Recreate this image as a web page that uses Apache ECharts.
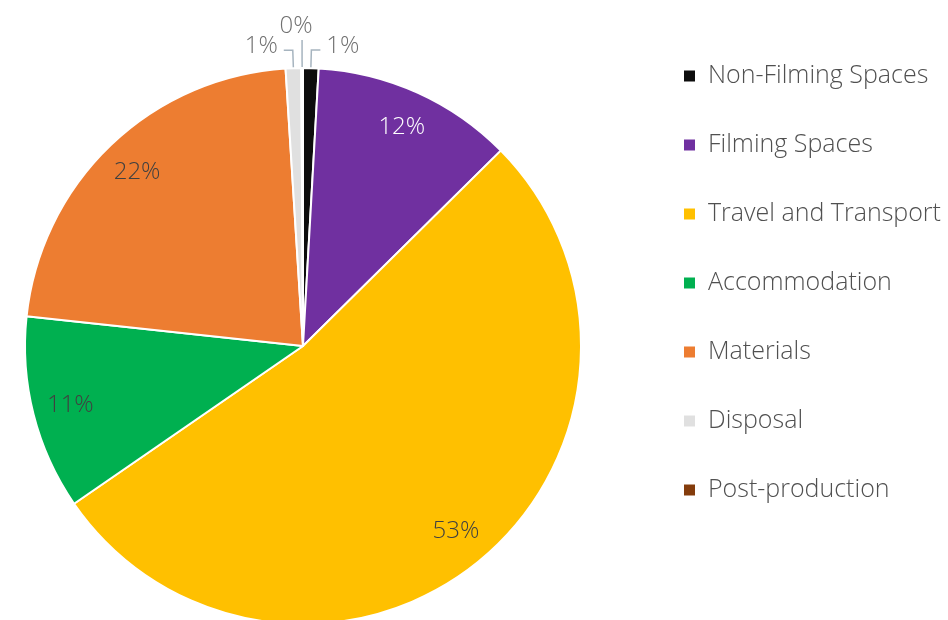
<!DOCTYPE html>
<html>
<head>
<meta charset="utf-8">
<script src="https://cdn.jsdelivr.net/npm/echarts@6/dist/echarts.min.js"></script>
<style>
  html, body { margin: 0; padding: 0; background: #fff; }
  #chart { width: 948px; height: 620px; }
</style>
</head>
<body>
<div id="chart"></div>
<script>
// categories and shares (percent of total footprint)
var categories = ['Non-Filming Spaces', 'Filming Spaces', 'Travel and Transport', 'Accommodation', 'Materials', 'Disposal', 'Post-production'];
var shares = [0.9, 11.7, 52.8, 11.3, 22.3, 0.9, 0.1];
var colors = ['#0d0d0d', '#7030a0', '#ffc000', '#00b050', '#ed7d31', '#e0e0e0', '#843c0c'];
var insideLabelColors = ['#404040', '#ffffff', '#404040', '#404040', '#404040', '#404040', '#404040'];

var chart = echarts.init(document.getElementById('chart'));

var pieCenter = [303, 346];
var pieRadius = 278;
var fontName = 'Open Sans';

// main pie: slices + outside labels for the tiny slices
var mainData = categories.map(function (name, i) {
  var small = shares[i] < 5;
  var item = {
    name: name,
    value: shares[i],
    itemStyle: { color: colors[i] },
    label: { show: small },
    labelLine: { show: small }
  };
  // the 0% one sits straight above the pie
  if (i === categories.length - 1) {
    item.labelLine = { show: true, length: 28, length2: 0 };
  }
  return item;
});

// transparent ring, only used to place the big-slice labels near the rim
var labelData = categories.map(function (name, i) {
  var big = shares[i] >= 5;
  return {
    name: name,
    value: shares[i],
    label: { show: big, color: insideLabelColors[i] }
  };
});

var option = {
  backgroundColor: '#ffffff',
  animation: false,
  legend: {
    orient: 'vertical',
    left: 677,
    top: 57,
    itemWidth: 13,
    itemHeight: 13,
    itemGap: 41,
    icon: 'rect',
    data: categories,
    textStyle: {
      fontFamily: fontName,
      fontWeight: 300,
      fontSize: 25,
      lineHeight: 28,
      color: '#505050',
      padding: [0, 0, 0, 7]
    }
  },
  series: [
    {
      type: 'pie',
      center: pieCenter,
      radius: [0, pieRadius],
      startAngle: 90,
      clockwise: true,
      percentPrecision: 0,
      avoidLabelOverlap: false,
      itemStyle: { borderColor: '#ffffff', borderWidth: 2 },
      label: {
        position: 'outside',
        formatter: '{d}%',
        fontFamily: fontName,
        fontWeight: 300,
        fontSize: 24,
        color: '#707070',
        distanceToLabelLine: 6
      },
      labelLine: {
        length: 18,
        length2: 9,
        smooth: false,
        lineStyle: { color: '#a6b4bf', width: 1.5 }
      },
      labelLayout: function (params) {
        if (params.dataIndex === categories.length - 1) {
          return { align: 'center', verticalAlign: 'bottom', dy: -2 };
        }
        return { dy: -4 };
      },
      emphasis: { disabled: true },
      data: mainData
    },
    {
      type: 'pie',
      center: pieCenter,
      radius: [196, pieRadius],
      startAngle: 90,
      clockwise: true,
      percentPrecision: 0,
      silent: true,
      legendHoverLink: false,
      itemStyle: { color: 'rgba(0,0,0,0)', borderWidth: 0 },
      label: {
        position: 'inside',
        formatter: '{d}%',
        fontFamily: fontName,
        fontWeight: 300,
        fontSize: 24
      },
      labelLine: { show: false },
      emphasis: { disabled: true },
      data: labelData
    }
  ]
};

chart.setOption(option);
</script>
</body>
</html>
